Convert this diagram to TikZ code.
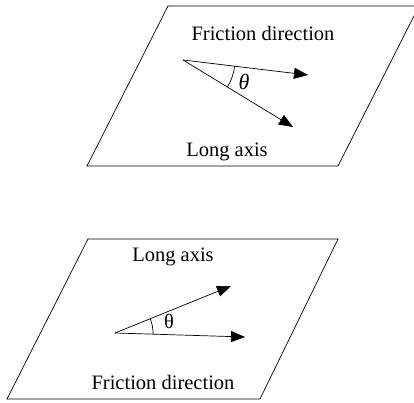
\documentclass[tikz,border=0pt]{standalone}
\usepackage{fontspec}
\setmainfont{Liberation Serif}
\usetikzlibrary{arrows.meta,calc}
\begin{document}
\begin{tikzpicture}[x=1pt,y=1pt,
  plane/.style={draw=black,line width=0.7pt},
  vec/.style={draw=black,line width=0.7pt,-{Triangle[length=14pt,width=11pt]}},
  anglearc/.style={draw=black,line width=0.7pt},
  lbl/.style={font=\fontsize{20.5}{23}\selectfont,inner sep=0pt}]
\useasboundingbox (0,0) rectangle (414,403);
\begin{scope}
\clip (0,0) rectangle (414,403);
% top plane
\draw[plane] (168,397) -- (419,397) -- (338,237) -- (87,237) -- cycle;
\end{scope}
\node[lbl] (fd1) at (263,370) {Friction direction};
\node[lbl] (la1) at (227,251) {Long axis};
\coordinate (s1) at (183,343);
\coordinate (f1) at (308,328);
\coordinate (l1) at (293,276);
\draw[vec] (s1) -- (f1);
\draw[vec] (s1) -- (l1);
\draw[anglearc] ($(s1)+(-6.84:52pt)$) arc[start angle=-6.84,end angle=-31.35,radius=52pt];
\node[lbl,font=\fontsize{22}{24}\selectfont] (t1) at (244,321) {\textit{θ}};
% bottom plane
\draw[plane] (88,164) -- (338,164) -- (260,4) -- (7,4) -- cycle;
\node[lbl] (la2) at (173,146) {Long axis};
\node[lbl] (fd2) at (163,21) {Friction direction};
\coordinate (s2) at (115,70);
\coordinate (l2) at (231,117);
\coordinate (f2) at (245,66);
\draw[vec] (s2) -- (l2);
\draw[vec] (s2) -- (f2);
\draw[anglearc] ($(s2)+(22.05:38pt)$) arc[start angle=22.05,end angle=-1.76,radius=38pt];
\node[lbl] (t2) at (169,82) {θ};
\end{tikzpicture}
\end{document}
